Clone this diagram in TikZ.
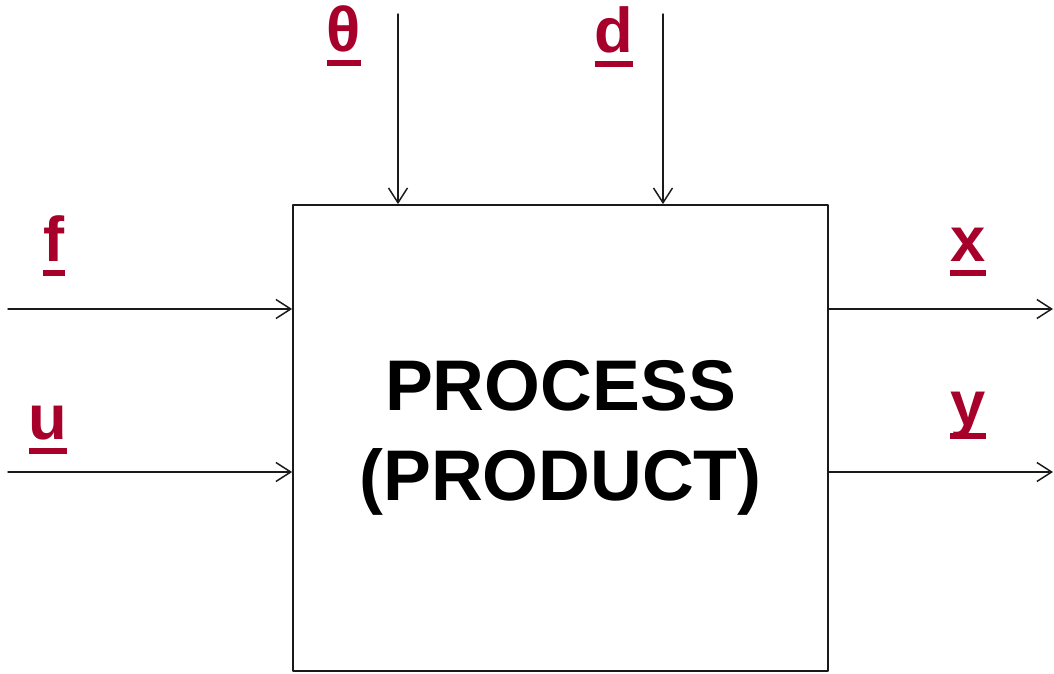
\documentclass[tikz,border=0pt]{standalone}
\usepackage{fontspec}
\setmainfont{Liberation Sans}
\usetikzlibrary{arrows.meta}

% underlined label: the bar sits under the baseline, over any descender
\newcommand\ulbl[1]{\setbox0\hbox{#1}\dp0=0pt \vtop{\copy0\kern5.7pt\hrule height 4.3pt}}

\begin{document}
\begin{tikzpicture}[x=0.025cm, y=0.025cm, line cap=round, line join=round]
  \definecolor{Ink}{HTML}{1A1A1A}
  \definecolor{LabelRed}{HTML}{A6002B}

  \tikzset{
    flow/.style={draw=Ink, line width=1.05pt, -{Straight Barb[length=10.5pt, width=13.5pt, line width=1.05pt]}},
    signal/.style={anchor=base, inner sep=0pt, text=LabelRed, font=\fontsize{45}{45}\selectfont\bfseries},
    block/.style={draw=Ink, line width=1.2pt, inner sep=0pt, align=center,
      minimum width=13.375cm, minimum height=11.65cm,
      font=\fontsize{51}{64}\selectfont\bfseries}
  }

  \useasboundingbox (0,0) rectangle (1054,673);

  \node[block] (process) at (560.5,235) {PROCESS\\(PRODUCT)};

  % Free ends of the signals
  \coordinate (thetaTop) at (398,659);
  \coordinate (dTop) at (663,659);
  \coordinate (fLeft) at (8,364);
  \coordinate (uLeft) at (8,201);
  \coordinate (xRight) at (1053,364);
  \coordinate (yRight) at (1053,201);

  % Inputs from above
  \draw[flow] (thetaTop) -- (thetaTop |- process.north);
  \draw[flow] (dTop) -- (dTop |- process.north);

  % Inputs from the left, outputs to the right
  \draw[flow] (fLeft) -- (fLeft -| process.west);
  \draw[flow] (uLeft) -- (uLeft -| process.west);
  \draw[flow] (xRight -| process.east) -- (xRight);
  \draw[flow] (yRight -| process.east) -- (yRight);

  % Labels
  \node[signal] (thetaLbl) at (344,621) {\ulbl{θ}};
  \node[signal] (dLbl) at (614,620) {\ulbl{d}};
  \node[signal] (fLbl) at (54,411) {\ulbl{f}};
  \node[signal] (uLbl) at (48,233) {\ulbl{u}};
  \node[signal] (xLbl) at (968,411) {\ulbl{x}};
  \node[signal] (yLbl) at (968,248) {\ulbl{y}};
\end{tikzpicture}
\end{document}
